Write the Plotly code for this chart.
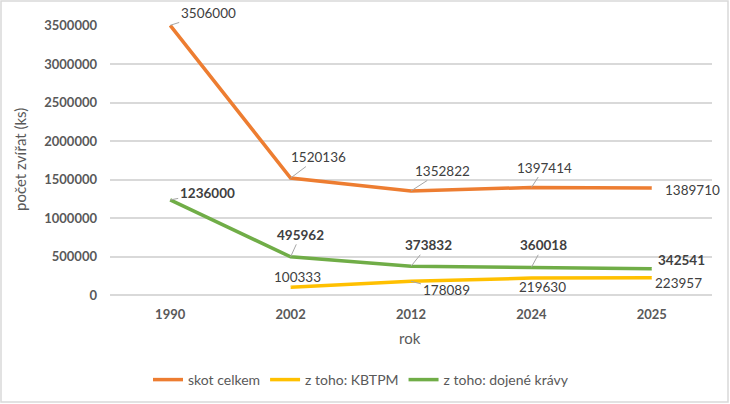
import plotly.graph_objects as go

# data -------------------------------------------------------------------
roky = ["1990", "2002", "2012", "2024", "2025"]
skot_celkem = [3506000, 1520136, 1352822, 1397414, 1389710]
kbtpm = [None, 100333, 178089, 219630, 223957]
dojene_kravy = [1236000, 495962, 373832, 360018, 342541]

serie = [
    ("skot celkem", skot_celkem, "#ED7D31", "normal"),
    ("z toho: KBTPM", kbtpm, "#FFC000", "normal"),
    ("z toho: dojené krávy", dojene_kravy, "#70AD47", "bold"),
]

# label offsets (px) from the point: dx, dy, leader line?
offsets = {
    "skot celkem": [(38, -12, True), (28, -21, True), (31, -20, True), (13, -20, True), (41, 2, False)],
    "z toho: KBTPM": [None, (7, -10, False), (35, 9, True), (11, 9, False), (27, 5, False)],
    "z toho: dojené krávy": [(37, -7, True), (10, -22, True), (17, -21, True), (12, -22, True), (30, -9, False)],
}

W, H = 730, 404
ML, MR, MT, MB = 110, 18, 25, 109
FONT = "Lato, Calibri, sans-serif"
GREY = "#595959"

fig = go.Figure()
for name, vals, col, weight in serie:
    fig.add_trace(go.Scatter(x=roky, y=vals, mode="lines", name=name,
                             line=dict(color=col, width=3.5), cliponaxis=False))
    for i, v in enumerate(vals):
        off = offsets[name][i]
        if v is None or off is None:
            continue
        dx, dy, lead = off
        fig.add_annotation(
            x=i, y=v, xref="x", yref="y", text=str(v),
            showarrow=True, ax=dx, ay=dy,
            arrowhead=0, arrowwidth=1, standoff=0,
            arrowcolor="#A6A6A6" if lead else "white",
            font=dict(family=FONT, size=13.5, color="#404040", weight=weight),
        )

pw = W - ML - MR
ph = H - MT - MB
y0px = MT + ph  # pixel row of the plot bottom

# axis titles
fig.add_annotation(x=(410 - ML) / pw, y=-(338 - y0px) / ph, xref="paper", yref="paper",
                   xanchor="center", yanchor="middle",
                   text="rok", showarrow=False, font=dict(family=FONT, size=15, color=GREY))
fig.add_annotation(x=(20 - ML) / pw, y=(y0px - 160) / ph, xref="paper", yref="paper",
                   xanchor="center", yanchor="middle",
                   text="počet zvířat (ks)", textangle=-90, showarrow=False,
                   font=dict(family=FONT, size=15, color=GREY))

fig.add_shape(type="rect", xref="paper", yref="paper",
              x0=(1 - ML) / pw, x1=(W - 2 - ML) / pw,
              y0=-(H - 2 - y0px) / ph, y1=1 + (MT - 1) / ph,
              line=dict(color="#D9D9D9", width=1.5))

fig.update_layout(
    width=W, height=H,
    margin=dict(l=ML, r=MR, t=MT, b=MB, autoexpand=False),
    plot_bgcolor="white", paper_bgcolor="white",
    font=dict(family=FONT, color=GREY),
    showlegend=True,
    legend=dict(orientation="h", x=(361 - ML) / pw, xanchor="center",
                y=-(380 - y0px) / ph, yanchor="middle",
                font=dict(size=14, color=GREY), itemwidth=30,
                tracegroupgap=0),
)
fig.update_xaxes(type="category", range=[-0.5, 4.5], showgrid=False,
                 showline=False, ticks="", ticklabelstandoff=10, automargin=False,
                 tickfont=dict(size=13, color=GREY, weight="bold"))
fig.update_yaxes(range=[0, 3510000], tick0=0, dtick=500000, tickformat="d",
                 showgrid=True, gridcolor="#D9D9D9", gridwidth=1.5,
                 zeroline=True, zerolinecolor="#D9D9D9", zerolinewidth=1.5,
                 ticks="", ticklabelstandoff=12, automargin=False,
                 tickfont=dict(size=13, color=GREY, weight="bold"))

fig.write_html("out.html", config={"displayModeBar": False},
               post_script="document.body.style.margin='0';")
